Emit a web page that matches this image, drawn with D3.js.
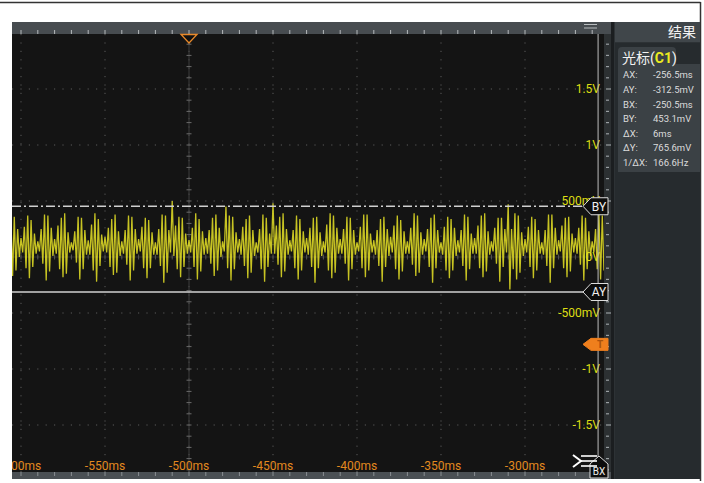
<!DOCTYPE html>
<html>
<head>
<meta charset="utf-8">
<script src="https://cdn.jsdelivr.net/npm/d3@7.9.0/dist/d3.min.js"></script>
<style>
  html, body { margin: 0; padding: 0; background: #fff; }
  svg { display: block; font-family: Roboto, 'Noto Sans CJK SC', sans-serif; }
</style>
</head>
<body>
<svg id="scope" width="704" height="483"></svg>
<script>
// ---- data ----
const timeTicks  = [-600, -550, -500, -450, -400, -350, -300];          // ms
const voltTicks  = [1.5, 1, 0.5, 0, -0.5, -1, -1.5];                     // V
const voltLabels = ['1.5V', '1V', '500mV', '0V', '-500mV', '-1V', '-1.5V'];

const sampleStart = -610;   // ms, first sample
const sampleStep  = 1;      // ms between samples
const samples = [
  0.15,0.02,0.24,-0.07,0.34,-0.17,0.36,-0.12,0.25,0.00,
  0.17,0.04,0.27,-0.10,0.37,-0.19,0.33,-0.09,0.21,0.03,
  0.14,0.05,0.25,-0.06,0.38,-0.21,0.37,-0.13,0.26,0.01,
  0.16,0.03,0.28,-0.11,0.35,-0.18,0.39,-0.15,0.22,0.04,
  0.13,0.06,0.23,-0.05,0.36,-0.20,0.35,-0.11,0.24,0.02,
  0.15,0.02,0.29,-0.12,0.39,-0.22,0.34,-0.08,0.20,0.05,
  0.18,0.04,0.26,-0.09,0.34,-0.16,0.38,-0.14,0.23,0.01,
  0.14,0.03,0.24,-0.07,0.37,-0.21,0.36,-0.12,0.25,0.03,
  0.16,0.05,0.27,-0.10,0.35,-0.19,0.33,-0.10,0.22,0.02,
  0.13,0.02,0.25,-0.08,0.38,-0.23,0.37,-0.14,0.24,0.04,
  0.50,0.01,0.28,-0.11,0.36,-0.18,0.35,-0.09,0.21,0.03,
  0.15,0.04,0.26,-0.09,0.39,-0.20,0.34,-0.13,0.23,0.02,
  0.17,0.03,0.24,-0.06,0.35,-0.17,0.38,-0.12,0.26,0.00,
  0.14,0.05,0.45,-0.10,0.37,-0.21,0.36,-0.11,0.22,0.04,
  0.16,0.02,0.27,-0.08,0.34,-0.19,0.37,-0.14,0.24,0.01,
  0.13,0.04,0.25,-0.11,0.38,-0.22,0.35,-0.09,0.21,0.03,
  0.48,0.03,0.28,-0.07,0.36,-0.18,0.39,-0.13,0.25,0.02,
  0.15,0.05,0.24,-0.10,0.37,-0.20,0.34,-0.12,0.23,0.04,
  0.17,0.02,0.26,-0.09,0.35,-0.23,0.36,-0.10,0.22,0.01,
  0.14,0.04,0.29,-0.12,0.39,-0.19,0.37,-0.14,0.26,0.03,
  0.16,0.03,0.25,-0.06,0.36,-0.21,0.35,-0.11,0.24,0.02,
  0.13,0.05,0.27,-0.10,0.38,-0.18,0.38,-0.12,0.21,0.04,
  0.15,0.02,0.24,-0.08,0.34,-0.22,0.36,-0.09,0.25,0.01,
  0.18,0.04,0.28,-0.11,0.37,-0.20,0.33,-0.13,0.23,0.03,
  0.14,0.03,0.26,-0.07,0.39,-0.17,0.37,-0.14,0.22,0.02,
  0.16,0.05,0.25,-0.09,0.35,-0.23,0.38,-0.10,0.24,0.04,
  0.13,0.02,0.27,-0.12,0.36,-0.19,0.34,-0.12,0.26,0.01,
  0.15,0.04,0.24,-0.08,0.38,-0.21,0.36,-0.11,0.21,0.03,
  0.17,0.03,0.28,-0.10,0.37,-0.18,0.39,-0.13,0.23,0.02,
  0.14,0.05,0.26,-0.06,0.35,-0.22,0.35,-0.09,0.25,0.04,
  0.47,-0.29,0.25,-0.11,0.39,-0.20,0.37,-0.14,0.22,0.01,
  0.16,0.04,0.27,-0.09,0.36,-0.19,0.34,-0.12,0.24,0.03,
  0.13,0.02,0.24,-0.08,0.38,-0.23,0.38,-0.10,0.26,0.02,
  0.15,0.05,0.28,-0.10,0.35,-0.18,0.36,-0.13,0.21,0.04,
  0.17,0.03,0.26,-0.07,0.37,-0.21,0.35,-0.11,0.23,0.01,
  0.14,0.04,0.25,-0.11,0.39,-0.20,0.37,-0.12,0.25,0.03
];

// cursors
const cursorAX = -256.5, cursorBX = -250.5;   // ms
const cursorAY = -0.3125, cursorBY = 0.4531;  // V
const triggerTime = -500, triggerLevel = -0.78;

const panelLabels = ['AX:', 'AY:', 'BX:', 'BY:', 'ΔX:', 'ΔY:', '1/ΔX:'];
const panelValues = ['-256.5ms', '-312.5mV', '-250.5ms', '453.1mV', '6ms', '765.6mV', '166.6Hz'];

// ---- layout ----
const plot = { left: 12, right: 604, top: 34, bottom: 472 };
const svg = d3.select('#scope');

const x = d3.scaleLinear().domain([-500, -300]).range([189, 525]);
const y = d3.scaleLinear().domain([-2, 2]).range([481, 33]);

/* frame */
svg.append('rect').attr('width', 704).attr('height', 483).attr('fill', '#fff');
svg.append('line').attr('x1', 0).attr('x2', 700.5).attr('y1', 2.5).attr('y2', 2.5)
  .attr('stroke', '#333').attr('stroke-width', 1.5);
svg.append('line').attr('x1', 700.5).attr('x2', 700.5).attr('y1', 2).attr('y2', 481)
  .attr('stroke', '#333').attr('stroke-width', 1.5);

/* top bar, plot, bottom bar, right ruler */
svg.append('rect').attr('x', 12).attr('y', 22).attr('width', 600).attr('height', 12).attr('fill', '#474c50');
svg.append('rect').attr('x', plot.left).attr('y', plot.top)
  .attr('width', plot.right - plot.left).attr('height', plot.bottom - plot.top).attr('fill', '#141414');
svg.append('rect').attr('x', 12).attr('y', 472).attr('width', 600).attr('height', 7).attr('fill', '#4b5054');
svg.append('rect').attr('x', 604).attr('y', 34).attr('width', 8).attr('height', 438).attr('fill', '#2c3032');

svg.append('defs').append('clipPath').attr('id', 'clip')
  .append('rect').attr('x', plot.left).attr('y', plot.top)
  .attr('width', plot.right - plot.left).attr('height', plot.bottom - plot.top);

const minorT = d3.range(-600, -250, 10);
const minorV = d3.range(-19, 20).map(d => d / 10);

// top ruler ticks
svg.append('g').selectAll('line').data(minorT.filter(t => x(t) > plot.left)).join('line')
  .attr('x1', d => x(d)).attr('x2', d => x(d)).attr('y1', 30).attr('y2', 34)
  .attr('stroke', '#b5b9bb').attr('stroke-width', 1);
// bottom ruler ticks
svg.append('g').selectAll('line').data(minorT.filter(t => x(t) > plot.left)).join('line')
  .attr('x1', d => x(d)).attr('x2', d => x(d)).attr('y1', 472).attr('y2', 476)
  .attr('stroke', '#8a8f92').attr('stroke-width', 1);
// right ruler ticks
svg.append('g').selectAll('line').data(minorV).join('line')
  .attr('x1', 606).attr('x2', d => (Math.round(d * 10) % 5 === 0) ? 611 : 609)
  .attr('y1', d => y(d)).attr('y2', d => y(d))
  .attr('stroke', '#9a9fa2').attr('stroke-width', 1.2);

const g = svg.append('g').attr('clip-path', 'url(#clip)');

/* dotted grid */
g.append('g').selectAll('line').data(timeTicks).join('line')
  .attr('x1', d => x(d)).attr('x2', d => x(d)).attr('y1', plot.top).attr('y2', plot.bottom)
  .attr('stroke', '#5a5a5a').attr('stroke-dasharray', '1.2 7.2');
g.append('g').selectAll('line').data(voltTicks).join('line')
  .attr('x1', plot.left).attr('x2', plot.right).attr('y1', d => y(d)).attr('y2', d => y(d))
  .attr('stroke', '#5a5a5a').attr('stroke-dasharray', '1.2 7.2');

/* centre lines with minor ticks */
g.append('line').attr('x1', x(triggerTime)).attr('x2', x(triggerTime))
  .attr('y1', plot.top).attr('y2', plot.bottom).attr('stroke', '#3c3c3c');
g.append('g').selectAll('line').data(minorV).join('line')
  .attr('x1', x(triggerTime) - 2.5).attr('x2', x(triggerTime) + 2.5)
  .attr('y1', d => y(d)).attr('y2', d => y(d)).attr('stroke', '#6a6a6a');
g.append('line').attr('x1', plot.left).attr('x2', plot.right)
  .attr('y1', y(0)).attr('y2', y(0)).attr('stroke', '#2e2e2e');
g.append('g').selectAll('line').data(minorT).join('line')
  .attr('x1', d => x(d)).attr('x2', d => x(d))
  .attr('y1', y(0) - 2.5).attr('y2', y(0) + 2.5).attr('stroke', '#555');

/* axis labels */
g.append('g').selectAll('text').data(voltTicks).join('text')
  .attr('x', 600).attr('y', d => y(d)).attr('dy', '0.36em')
  .attr('text-anchor', 'end').attr('font-size', 12).attr('fill', '#dede12')
  .text((d, i) => voltLabels[i]);
g.append('g').selectAll('text').data(timeTicks).join('text')
  .attr('x', d => x(d)).attr('y', 470)
  .attr('text-anchor', 'middle').attr('font-size', 12).attr('fill', '#e2891f')
  .text(d => `${d}ms`);

/* waveform */
const line = d3.line()
  .x((d, i) => x(sampleStart + i * sampleStep))
  .y(d => y(d));
g.append('path').datum(samples)
  .attr('d', line).attr('fill', 'none')
  .attr('stroke', '#e6e226').attr('stroke-width', 1.3).attr('stroke-opacity', 0.85);

/* cursors */
g.append('line').attr('x1', x(cursorAX)).attr('x2', x(cursorAX))
  .attr('y1', plot.top).attr('y2', plot.bottom).attr('stroke', '#bdbdbd');
g.append('line').attr('x1', plot.left).attr('x2', 585)
  .attr('y1', y(cursorBY)).attr('y2', y(cursorBY))
  .attr('stroke', '#d0d0d0').attr('stroke-width', 1.3).attr('stroke-dasharray', '9 3 2 3');
g.append('line').attr('x1', plot.left).attr('x2', 585)
  .attr('y1', y(cursorAY)).attr('y2', y(cursorAY))
  .attr('stroke', '#d0d0d0').attr('stroke-width', 1.3);

function leftTag(yc, h, fill, stroke) {
  const p = `M583,${yc} L591,${yc - h} L608,${yc - h} L608,${yc + h} L591,${yc + h} Z`;
  return svg.append('path').attr('d', p).attr('fill', fill).attr('stroke', stroke).attr('stroke-width', 1);
}
[[cursorBY, 'BY'], [cursorAY, 'AY']].forEach(([v, name]) => {
  leftTag(y(v), 8.5, '#0c0c0c', '#dcdcdc');
  svg.append('text').attr('x', 599).attr('y', y(v)).attr('dy', '0.36em')
    .attr('text-anchor', 'middle').attr('font-size', 12).attr('fill', '#f0f0f0').text(name);
});
leftTag(y(triggerLevel), 6, '#ef7f1d', '#ef7f1d');
svg.append('text').attr('x', 600).attr('y', y(triggerLevel)).attr('dy', '0.36em')
  .attr('text-anchor', 'middle').attr('font-size', 10).attr('font-weight', 'bold')
  .attr('fill', '#a9520c').text('T');

/* BX tag at bottom */
const bxX = Math.min(x(cursorBX), 599);
svg.append('path')
  .attr('d', `M${bxX - 9},478 L${bxX - 9},464 L${bxX},456 L${bxX + 9},464 L${bxX + 9},478 Z`)
  .attr('fill', '#0c0c0c').attr('stroke', '#dcdcdc');
svg.append('text').attr('x', bxX).attr('y', 475).attr('text-anchor', 'middle')
  .attr('font-size', 10).attr('fill', '#eee').text('BX');
svg.append('path').attr('d', 'M573,455 L581,461 L573,467')
  .attr('fill', 'none').attr('stroke', '#fff').attr('stroke-width', 2);
svg.append('g').selectAll('line').data([456, 461, 466]).join('line')
  .attr('x1', 581).attr('x2', 597).attr('y1', d => d).attr('y2', d => d)
  .attr('stroke', '#fff').attr('stroke-width', 1.6);

/* trigger time marker */
svg.append('path')
  .attr('d', `M${x(triggerTime) - 8},34.5 L${x(triggerTime) + 8},34.5 L${x(triggerTime)},43 Z`)
  .attr('fill', '#111').attr('stroke', '#e8892a').attr('stroke-width', 1.3);

/* menu icon in top bar */
svg.append('g').selectAll('line').data([24.5, 28]).join('line')
  .attr('x1', 584).attr('x2', 597).attr('y1', d => d).attr('y2', d => d)
  .attr('stroke', '#b8bcbe').attr('stroke-width', 1);

/* right panel */
svg.append('rect').attr('x', 612).attr('y', 22).attr('width', 88).attr('height', 457).attr('fill', '#2d3235');
svg.append('rect').attr('x', 611).attr('y', 22).attr('width', 3).attr('height', 457).attr('fill', '#1b1e20');
svg.append('rect').attr('x', 615).attr('y', 22).attr('width', 85).attr('height', 20).attr('fill', '#40464a');
svg.append('text').attr('x', 696).attr('y', 37).attr('text-anchor', 'end')
  .attr('font-size', 14).attr('fill', '#f2f2f2').text('结果');
svg.append('rect').attr('x', 615).attr('y', 43).attr('width', 85).attr('height', 436).attr('fill', '#262b2e');

svg.append('rect').attr('x', 618).attr('y', 47).attr('width', 58).attr('height', 22).attr('rx', 4).attr('fill', '#3b4145');
svg.append('rect').attr('x', 618).attr('y', 64).attr('width', 82).attr('height', 108).attr('fill', '#3b4145');
const tab = svg.append('text').attr('x', 622).attr('y', 63).attr('font-size', 14).attr('fill', '#f2f2f2');
tab.append('tspan').text('光标(');
tab.append('tspan').attr('fill', '#ecea20').attr('font-weight', 'bold').text('C1');
tab.append('tspan').text(')');

svg.append('g').selectAll('text').data(panelLabels).join('text')
  .attr('x', 623).attr('y', (d, i) => 75 + i * 14.6).attr('dy', '0.36em')
  .attr('font-size', 9.5).attr('fill', '#dcdcdc').text(d => d);
svg.append('g').selectAll('text').data(panelValues).join('text')
  .attr('x', 653).attr('y', (d, i) => 75 + i * 14.6).attr('dy', '0.36em')
  .attr('font-size', 9.5).attr('fill', '#dcdcdc').text(d => d);
</script>
</body>
</html>
